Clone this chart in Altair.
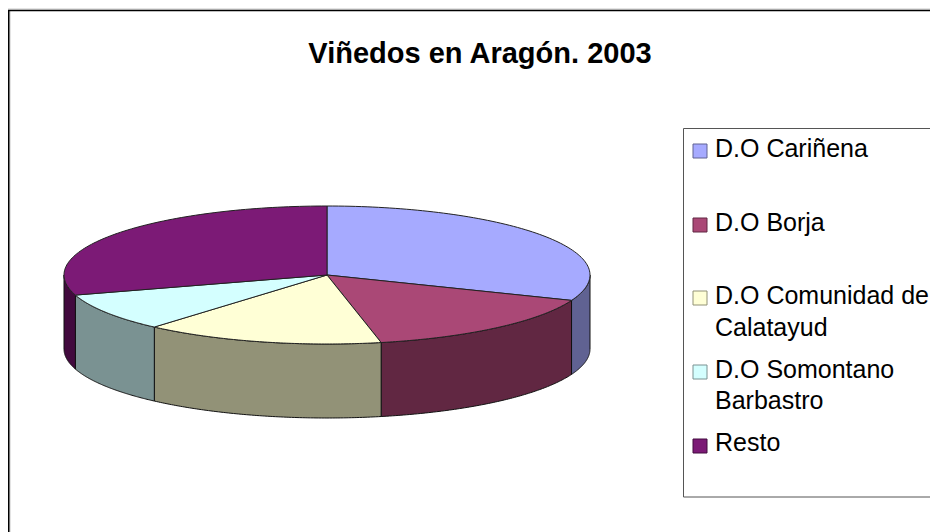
import numpy as np
import pandas as pd
import altair as alt

# data
CATEGORIES = ["D.O Cariñena", "D.O Borja", "D.O Comunidad de Calatayud", "D.O Somontano Barbastro", "Resto"]
SHARES = [31.0, 15.7, 14.7, 8.9, 29.7]
TOP_COLORS = ["#A6AAFF", "#AA4876", "#FFFFD6", "#D4FFFF", "#7C1A76"]
SIDE_COLORS = ["#606292", "#612742", "#929277", "#7A9292", "#420A3E"]
LEGEND_LINES = [["D.O Cariñena"], ["D.O Borja"], ["D.O Comunidad de", "Calatayud"], ["D.O Somontano", "Barbastro"], ["Resto"]]
TITLE = "Viñedos en Aragón. 2003"

# layout (pixels in the chart area; the page adds 8)
W, H = 922, 524
CX, CY, RX, RY = 319.0, 267.0, 263.0, 69.0
DEPTH = 74.0 / RY
LEGEND_SWATCH_Y = [143, 217, 290, 364, 438]
LEGEND_TEXT_Y = [[149], [223], [296, 328], [370, 401], [443]]

x_scale = alt.Scale(domain=[(0 - CX) / RX, (W - CX) / RX], range=[0, W], nice=False, zero=False)
y_scale = alt.Scale(domain=[(CY - H) / RY, CY / RY], range=[H, 0], nice=False, zero=False)
color_scale = alt.Scale(domain=CATEGORIES, range=TOP_COLORS)
side_scale = alt.Scale(domain=CATEGORIES, range=SIDE_COLORS)
X = alt.X("u:Q", scale=x_scale, axis=None)
Y = alt.Y("v:Q", scale=y_scale, axis=None)

# geometry derived from the shares: angle clockwise from the top of the pie
edges = np.concatenate([[0.0], np.cumsum(SHARES) / np.sum(SHARES) * 2 * np.pi])
top_rows, wall_rows = [], []
for name, a0, a1 in zip(CATEGORIES, edges[:-1], edges[1:]):
    n = 0
    top_rows.append({"name": name, "u": 0.0, "v": 0.0, "i": n})
    for a in np.linspace(a0, a1, 90):
        n += 1
        top_rows.append({"name": name, "u": float(np.sin(a)), "v": float(np.cos(a)), "i": n})
    b0, b1 = max(a0, np.pi / 2), min(a1, 3 * np.pi / 2)
    if b1 > b0:
        for a in np.linspace(b0, b1, 90):
            wall_rows.append({"name": name, "u": float(np.sin(a)), "v": float(np.cos(a)),
                              "v2": float(np.cos(a)) - DEPTH})

top = pd.DataFrame(top_rows)
wall = pd.DataFrame(wall_rows)

walls = alt.Chart(wall).mark_area(stroke="#111111", strokeWidth=1, clip=False).encode(
    x=X, y=Y, y2="v2:Q",
    fill=alt.Fill("name:N", scale=side_scale, legend=None),
    detail="name:N",
)
faces = alt.Chart(top).mark_line(interpolate="linear-closed", stroke="#222222", strokeWidth=1, filled=False).encode(
    x=X, y=Y, order="i:Q",
    fill=alt.Fill("name:N", scale=color_scale, legend=None),
    detail="name:N",
)

frame_left = alt.Chart(pd.DataFrame({"k": [0]})).mark_rule(color="black", strokeWidth=1.5).encode(
    x=alt.value(0.75), y=alt.value(2), y2=alt.value(H))
frame_left_shadow = alt.Chart(pd.DataFrame({"k": [0]})).mark_rule(color="#C8C8C8", strokeWidth=1).encode(
    x=alt.value(2), y=alt.value(2), y2=alt.value(H))
frame_top = alt.Chart(pd.DataFrame({"k": [0]})).mark_rule(color="black", strokeWidth=1.5).encode(
    x=alt.value(0), x2=alt.value(W), y=alt.value(2.5))
frame_top_shadow = alt.Chart(pd.DataFrame({"k": [0]})).mark_rule(color="#C8C8C8", strokeWidth=1).encode(
    x=alt.value(0), x2=alt.value(W), y=alt.value(1))

legend_box = alt.Chart(pd.DataFrame({"k": [0]})).mark_rect(fill="white", stroke="#555555", strokeWidth=1).encode(
    x=alt.value(675.5), x2=alt.value(W + 10), y=alt.value(120.5), y2=alt.value(489))

swatch_df = pd.DataFrame({"name": CATEGORIES, "py": LEGEND_SWATCH_Y})
swatches = alt.Chart(swatch_df).mark_square(size=196, opacity=1, filled=True, strokeWidth=1).encode(
    x=alt.value(692),
    y=alt.Y("py:Q", scale=None, axis=None),
    fill=alt.Fill("name:N", scale=color_scale, legend=None),
    stroke=alt.Stroke("name:N", scale=side_scale, legend=None),
)
text_df = pd.DataFrame(
    [{"line": t, "py": y} for lines, ys in zip(LEGEND_LINES, LEGEND_TEXT_Y) for t, y in zip(lines, ys)]
)
labels = alt.Chart(text_df).mark_text(
    align="left", baseline="alphabetic", font="Liberation Sans", fontSize=25, color="black"
).encode(
    x=alt.value(707),
    y=alt.Y("py:Q", scale=None, axis=None),
    text="line:N",
)

chart = alt.layer(
    frame_top_shadow, frame_left_shadow, frame_left, frame_top, walls, faces, legend_box, swatches, labels
).resolve_scale(fill="independent", stroke="independent", x="shared", y="independent").properties(
    width=W,
    height=H,
    padding=0,
    autosize=alt.AutoSizeParams(type="none"),
    background="white",
    title=alt.TitleParams(
        TITLE, font="Liberation Sans", fontSize=29, fontWeight="bold", color="black",
        anchor="middle", frame="group", align="center", baseline="alphabetic", dx=11, dy=84, offset=0,
    ),
).configure_view(stroke=None)

chart.save("out.html", embed_options={"renderer": "svg", "actions": False})
